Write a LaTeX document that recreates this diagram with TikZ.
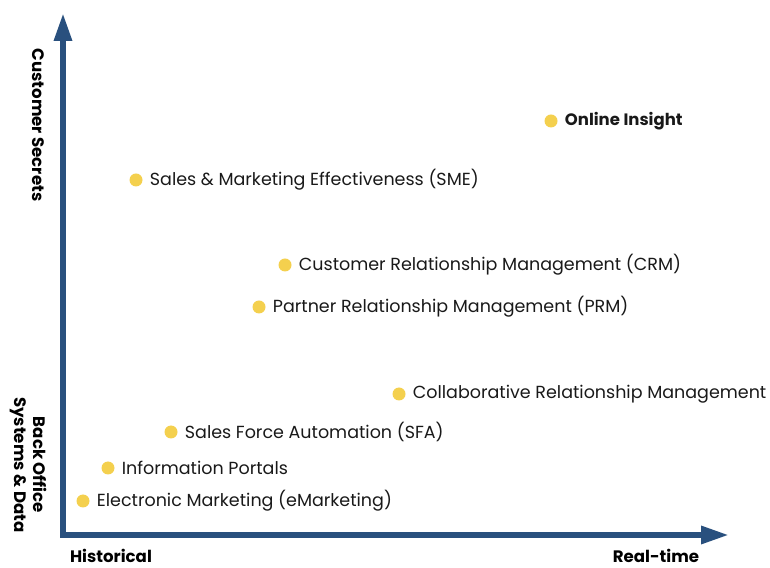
\documentclass[tikz,border=0pt]{standalone}
\usepackage{fontspec}
\setmainfont{Poppins}
\usetikzlibrary{positioning,arrows.meta}

\definecolor{axisblue}{RGB}{41,80,126}
\definecolor{dotyellow}{RGB}{244,208,78}

\tikzset{
    axis/.style={line width=6pt, axisblue, {Triangle[length=28pt,width=17pt]}-{Triangle[length=28pt,width=17pt]}},
    dot/.style={circle, fill=dotyellow, minimum size=13pt, inner sep=0pt},
    lbl/.style={anchor=west, inner sep=0pt, font=\fontsize{17.5}{20}\selectfont, text=black!90},
    axlbl/.style={inner sep=0pt, font=\fontsize{16.6}{19}\selectfont\bfseries, align=center}
}

\begin{document}
\begin{tikzpicture}[x=1pt,y=1pt]
    \useasboundingbox (0,0) rectangle (770,567);

    % Axes
    \coordinate (ytop) at (63,554);
    \coordinate (xend) at (729,32);
    \draw[axis] (ytop) |- (xend);

    % Axis labels
    \node[axlbl, rotate=-90] (secrets) at (38,442) {Customer Secrets};
    \node[axlbl, rotate=-90] (backoffice) at (28,102) {Back Office\\Systems \& Data};
    \node[axlbl, anchor=base] (hist) at (111,5) {Historical};
    \node[axlbl, anchor=base] (rt) at (656,5) {Real-time};

    % Items
    \node[dot] (oi) at (551,446) {};
    \node[lbl, right=7pt of oi, font=\fontsize{16.5}{19}\selectfont\bfseries] (oit) {Online Insight};

    \node[dot] (sme) at (136,387) {};
    \node[lbl, right=7pt of sme] (smet) {Sales \& Marketing Effectiveness (SME)};

    \node[dot] (crm) at (285,302) {};
    \node[lbl, right=7pt of crm] (crmt) {Customer Relationship Management (CRM)};

    \node[dot] (prm) at (259,260) {};
    \node[lbl, right=7pt of prm] (prmt) {Partner Relationship Management (PRM)};

    \node[dot] (colrm) at (399,173) {};
    \node[lbl, right=7pt of colrm] (colrmt) {Collaborative Relationship Management};

    \node[dot] (sfa) at (171,135) {};
    \node[lbl, right=7pt of sfa] (sfat) {Sales Force Automation (SFA)};

    \node[dot] (ip) at (108,99) {};
    \node[lbl, right=7pt of ip] (ipt) {Information Portals};

    \node[dot] (em) at (83,66) {};
    \node[lbl, right=7pt of em] (emt) {Electronic Marketing (eMarketing)};
\end{tikzpicture}
\end{document}
